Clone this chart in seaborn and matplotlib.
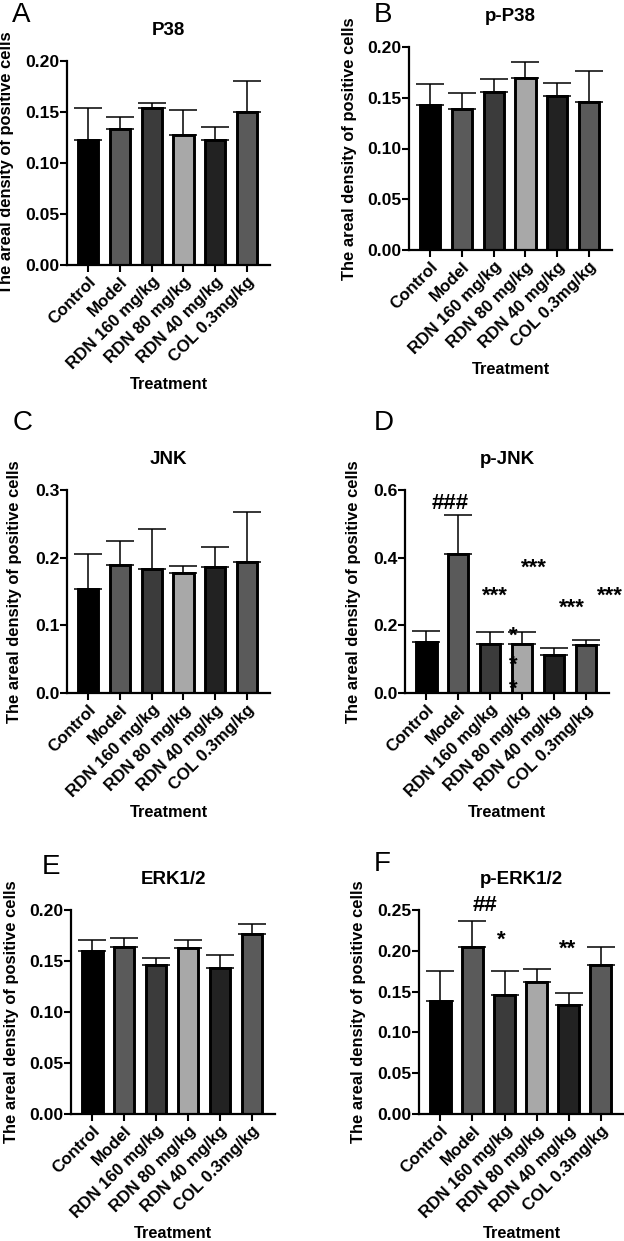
import numpy as np
import pandas as pd
import matplotlib
matplotlib.use('Agg')  # no display in the sandbox
import matplotlib.pyplot as plt
import seaborn as sns

# groups and bar fills (same order in every panel)
groups = ["Control", "Model", "RDN 160 mg/kg", "RDN 80 mg/kg", "RDN 40 mg/kg", "COL 0.3mg/kg"]
bar_colors = ["#000000", "#5a5a5a", "#3b3b3b", "#a8a8a8", "#222222", "#5a5a5a"]

# means and upper error
p38_mean = [0.123, 0.133, 0.154, 0.127, 0.123, 0.150]
p38_err = [0.031, 0.012, 0.005, 0.025, 0.012, 0.030]

pp38_mean = [0.143, 0.139, 0.156, 0.169, 0.152, 0.146]
pp38_err = [0.021, 0.016, 0.012, 0.016, 0.013, 0.030]

jnk_mean = [0.153, 0.189, 0.183, 0.177, 0.186, 0.193]
jnk_err = [0.052, 0.036, 0.059, 0.011, 0.030, 0.074]

pjnk_mean = [0.152, 0.411, 0.145, 0.145, 0.111, 0.141]
pjnk_err = [0.031, 0.115, 0.034, 0.034, 0.022, 0.016]

erk_mean = [0.160, 0.164, 0.146, 0.163, 0.143, 0.176]
erk_err = [0.011, 0.009, 0.007, 0.008, 0.013, 0.010]

perk_mean = [0.139, 0.205, 0.146, 0.162, 0.133, 0.183]
perk_err = [0.036, 0.032, 0.029, 0.016, 0.015, 0.022]

# significance marks (text, x in bar units, y in data units)
pjnk_marks = ["###", "***", "***", "***", "***", "*", "*", "*"]
pjnk_mark_x = [0.76, 2.14, 3.37, 4.57, 5.76, 2.74, 2.74, 2.74]
pjnk_mark_y = [0.56, 0.285, 0.369, 0.25, 0.285, 0.167, 0.083, 0.01]

perk_marks = ["##", "*", "**"]
perk_mark_x = [1.38, 1.9, 3.97]
perk_mark_y = [0.256, 0.213, 0.202]

W, H = 624, 1241

sns.set_theme(style="ticks")
plt.rcParams['font.family'] = ['Liberation Sans', 'DejaVu Sans']


def rect(l, r, t, b):
    return [l / W, 1 - b / H, (r - l) / W, (b - t) / H]


panels = [
    dict(letter="A", lpos=(12, 2), title="P38", mean=p38_mean, err=p38_err,
         ylim=0.20, step=0.05, fmt="{:.2f}", lx=(67, 270), box=rect(67, 270, 61, 265), ylab=14),
    dict(letter="B", lpos=(374, 2), title="p-P38", mean=pp38_mean, err=pp38_err,
         ylim=0.20, step=0.05, fmt="{:.2f}", lx=(409, 612), box=rect(409, 612, 47, 250), ylab=357),
    dict(letter="C", lpos=(13, 410), title="JNK", mean=jnk_mean, err=jnk_err,
         ylim=0.3, step=0.1, fmt="{:.1f}", lx=(67, 270), box=rect(67, 270, 490, 693), ylab=22),
    dict(letter="D", lpos=(374, 410), title="p-JNK", mean=pjnk_mean, err=pjnk_err,
         ylim=0.6, step=0.2, fmt="{:.1f}", lx=(405, 609), box=rect(405, 609, 490, 693), ylab=361,
         marks=(pjnk_marks, pjnk_mark_x, pjnk_mark_y)),
    dict(letter="E", lpos=(42, 854), title="ERK1/2", mean=erk_mean, err=erk_err,
         ylim=0.20, step=0.05, fmt="{:.2f}", lx=(71, 275), box=rect(71, 275, 910, 1114), ylab=19),
    dict(letter="F", lpos=(374, 851), title="p-ERK1/2", mean=perk_mean, err=perk_err,
         ylim=0.25, step=0.05, fmt="{:.2f}", lx=(419, 624), box=rect(419, 624, 910, 1114), ylab=366,
         marks=(perk_marks, perk_mark_x, perk_mark_y)),
]

fig = plt.figure(figsize=(W / 100, H / 100), dpi=100)
fig.patch.set_facecolor("white")

for p in panels:
    ax = fig.add_axes(p["box"])
    df = pd.DataFrame({"group": groups, "value": p["mean"]})
    sns.barplot(data=df, x="group", y="value", hue="group", palette=bar_colors,
                order=groups, hue_order=groups, legend=False, errorbar=None,
                width=0.64, edgecolor="black", linewidth=2.1, ax=ax, zorder=2)
    xs = np.arange(len(groups))
    ax.errorbar(xs, p["mean"], yerr=[np.zeros(len(groups)), p["err"]], fmt="none",
                ecolor="black", elinewidth=1.1, capsize=10, capthick=1.1, zorder=3)

    ax.set_xlim(-0.67, 5.73)
    ax.set_ylim(0, p["ylim"])
    ticks = np.arange(0, p["ylim"] + 1e-9, p["step"])
    ax.set_yticks(ticks)
    ax.set_yticklabels([p["fmt"].format(t) for t in ticks])
    ax.set_xticks(xs)
    ax.set_xticklabels(groups, rotation=45, ha="right", rotation_mode="anchor")

    for lab in ax.get_yticklabels():
        lab.set_fontweight("bold")
        lab.set_fontsize(12.6)
    for lab in ax.get_xticklabels():
        lab.set_fontweight("bold")
        lab.set_fontsize(12.2)
    ax.tick_params(axis="both", direction="out", length=5, width=1.5, color="black",
                   labelcolor="black")
    ax.tick_params(axis="y", pad=0.5)
    ax.tick_params(axis="x", pad=1.5)

    for side in ["top", "right"]:
        ax.spines[side].set_visible(False)
    for side in ["left", "bottom"]:
        ax.spines[side].set_linewidth(1.6)
        ax.spines[side].set_color("black")

    width_px = p["lx"][1] - p["lx"][0]
    ax.set_ylabel("The areal density of positive cells", fontsize=11.9,
                  fontweight="bold", color="black")
    ax.yaxis.set_label_coords((p["ylab"] - p["lx"][0]) / width_px, 0.5)
    ax.set_xlabel("Treatment", fontsize=11.8, fontweight="bold", color="black")
    ax.xaxis.set_label_coords(0.5, -0.55)
    ax.set_title(p["title"], fontsize=13.5, fontweight="bold", color="black", pad=19)

    if "marks" in p:
        for s, mx, my in zip(*p["marks"]):
            ax.text(mx, my, s, ha="center", va="center", fontsize=16,
                    fontweight="bold", color="black", clip_on=False, zorder=4)

    fig.text(p["lpos"][0] / W, 1 - p["lpos"][1] / H, p["letter"], ha="left", va="top",
             fontsize=20, color="black")

fig.savefig("out.png", dpi=100, facecolor="white")
